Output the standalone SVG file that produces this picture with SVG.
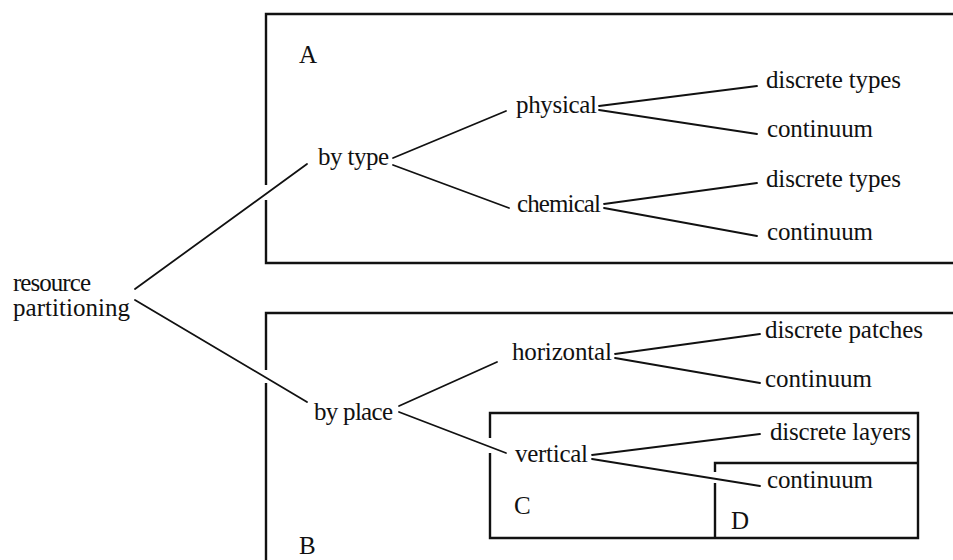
<svg xmlns="http://www.w3.org/2000/svg" width="953" height="560" viewBox="0 0 953 560">
  <style>
    .bg { fill: #ffffff; }
    .frame { fill: none; stroke: #111; stroke-width: 2.4; stroke-linecap: butt; }
    .edge { fill: none; stroke: #111; stroke-width: 1.8; stroke-linecap: round; }
    .lbl { font-family: "Liberation Serif", "Times New Roman", serif; font-size: 25px; fill: #111; }
  </style>
  <rect class="bg" x="0" y="0" width="953" height="560"/>

  <!-- region frames (left edges broken where branches pass through) -->
  <g id="frames">
    <g id="frame-A">
      <path class="frame" d="M953 14 H266 V185 M266 200 V263 H953"/>
      <text class="lbl" x="299" y="63">A</text>
    </g>
    <g id="frame-B">
      <path class="frame" d="M953 313 H266 V370 M266 383 V560"/>
      <text class="lbl" x="299" y="554">B</text>
    </g>
    <g id="frame-C">
      <path class="frame" d="M490 438 V413 H918 V538 H490 V453"/>
      <text class="lbl" x="514" y="514">C</text>
    </g>
    <g id="frame-D">
      <path class="frame" d="M715 472 V463 H918 M715 483 V538"/>
      <text class="lbl" x="731" y="529">D</text>
    </g>
  </g>

  <!-- branches -->
  <g id="connectors">
    <line class="edge" x1="135" y1="289" x2="307" y2="164"/>
    <line class="edge" x1="135" y1="300" x2="307" y2="402"/>
    <line class="edge" x1="393" y1="158" x2="506" y2="111"/>
    <line class="edge" x1="393" y1="165" x2="509" y2="208"/>
    <line class="edge" x1="599" y1="106" x2="757" y2="86"/>
    <line class="edge" x1="599" y1="110" x2="757" y2="134"/>
    <line class="edge" x1="604" y1="204" x2="757" y2="183"/>
    <line class="edge" x1="604" y1="208" x2="757" y2="236"/>
    <line class="edge" x1="399" y1="406" x2="497" y2="362"/>
    <line class="edge" x1="399" y1="412" x2="506" y2="453"/>
    <line class="edge" x1="615" y1="354" x2="760" y2="334"/>
    <line class="edge" x1="615" y1="358" x2="760" y2="383"/>
    <line class="edge" x1="592" y1="455" x2="760" y2="434"/>
    <line class="edge" x1="592" y1="459" x2="760" y2="486"/>
  </g>

  <!-- nodes -->
  <g id="node-root">
    <text class="lbl" x="13" y="291" textLength="78" lengthAdjust="spacing">resource</text>
    <text class="lbl" x="13" y="316" textLength="117" lengthAdjust="spacing">partitioning</text>
  </g>
  <g id="node-by-type"><text class="lbl" x="318" y="165" textLength="71" lengthAdjust="spacing">by type</text></g>
  <g id="node-physical"><text class="lbl" x="516" y="113" textLength="81" lengthAdjust="spacing">physical</text></g>
  <g id="node-chemical"><text class="lbl" x="517" y="212" textLength="84" lengthAdjust="spacing">chemical</text></g>
  <g id="node-phys-discrete"><text class="lbl" x="766" y="88" textLength="135" lengthAdjust="spacing">discrete types</text></g>
  <g id="node-phys-continuum"><text class="lbl" x="767" y="137" textLength="106" lengthAdjust="spacing">continuum</text></g>
  <g id="node-chem-discrete"><text class="lbl" x="766" y="187" textLength="135" lengthAdjust="spacing">discrete types</text></g>
  <g id="node-chem-continuum"><text class="lbl" x="767" y="240" textLength="106" lengthAdjust="spacing">continuum</text></g>
  <g id="node-by-place"><text class="lbl" x="314" y="420" textLength="79" lengthAdjust="spacing">by place</text></g>
  <g id="node-horizontal"><text class="lbl" x="512" y="360" textLength="100" lengthAdjust="spacing">horizontal</text></g>
  <g id="node-vertical"><text class="lbl" x="515" y="462" textLength="73" lengthAdjust="spacing">vertical</text></g>
  <g id="node-hor-discrete"><text class="lbl" x="765" y="338" textLength="158" lengthAdjust="spacing">discrete patches</text></g>
  <g id="node-hor-continuum"><text class="lbl" x="765" y="387" textLength="107" lengthAdjust="spacing">continuum</text></g>
  <g id="node-ver-discrete"><text class="lbl" x="770" y="440" textLength="141" lengthAdjust="spacing">discrete layers</text></g>
  <g id="node-ver-continuum"><text class="lbl" x="767" y="488" textLength="106" lengthAdjust="spacing">continuum</text></g>
</svg>
